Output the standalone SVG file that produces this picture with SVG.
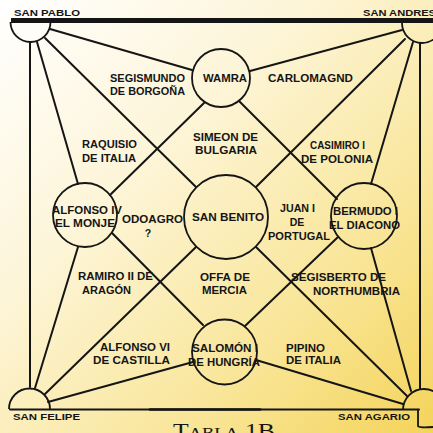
<svg xmlns="http://www.w3.org/2000/svg" width="433" height="433" viewBox="0 0 433 433">
<defs>
<linearGradient id="bg" x1="0" y1="0" x2="1" y2="1">
<stop offset="0" stop-color="#ffffff"/>
<stop offset="0.35" stop-color="#fdf5d8"/>
<stop offset="0.7" stop-color="#f9e69a"/>
<stop offset="1" stop-color="#f4d45a"/>
</linearGradient>
<style>
.ln{stroke:#151515;stroke-width:2;fill:none;stroke-linecap:round}
.nd{stroke:#151515;stroke-width:1.8;fill:none}
.bar{stroke:#151515;stroke-width:5;fill:none}
.t{font-family:"Liberation Sans",Arial,sans-serif;font-weight:bold;font-size:10.5px;fill:#151515}
.c{font-family:"Liberation Sans",Arial,sans-serif;font-weight:bold;font-size:8.5px;fill:#151515}
.m{text-anchor:middle}
</style>
</defs>
<rect width="433" height="433" fill="url(#bg)"/>

<g id="frame">
<line class="bar" x1="11" y1="20.5" x2="433" y2="20.5"/>
<line class="ln" x1="10" y1="409.5" x2="419" y2="409.5"/>
<line class="ln" x1="150" y1="409.5" x2="260" y2="409.5" style="stroke-width:2.6"/>
</g>

<g id="connectors">
<line class="ln" x1="50" y1="29" x2="192" y2="70"/>
<line class="ln" x1="45" y1="38" x2="196" y2="187"/>
<line class="ln" x1="37" y1="42" x2="78" y2="184"/>
<line class="ln" x1="30" y1="42" x2="30" y2="387"/>
<line class="ln" x1="402" y1="30" x2="250" y2="71"/>
<line class="ln" x1="405" y1="39" x2="256" y2="187"/>
<line class="ln" x1="413" y1="42" x2="371" y2="184"/>
<line class="ln" x1="420" y1="43" x2="420" y2="389"/>
<line class="ln" x1="204" y1="103" x2="110" y2="195"/>
<line class="ln" x1="239" y1="101" x2="337" y2="199"/>
<line class="ln" x1="112" y1="233" x2="203" y2="325"/>
<line class="ln" x1="78" y1="247" x2="35" y2="388"/>
<line class="ln" x1="196" y1="247" x2="45" y2="394"/>
<line class="ln" x1="48" y1="402" x2="193" y2="362"/>
<line class="ln" x1="256" y1="247" x2="407" y2="396"/>
<line class="ln" x1="338" y1="237" x2="245" y2="326"/>
<line class="ln" x1="371" y1="248" x2="411" y2="391"/>
<line class="ln" x1="256" y1="360" x2="403" y2="404"/>
</g>

<g id="san-pablo">
<path class="nd" d="M10.5,22 A20 20 0 0 0 50.5,22"/>
<text class="c" x="14" y="16" textLength="66" lengthAdjust="spacingAndGlyphs">SAN PABLO</text>
</g>
<g id="san-andres">
<path class="nd" d="M402,23 A20 20 0 0 0 442,23"/>
<text class="c" x="363" y="16" textLength="73" lengthAdjust="spacingAndGlyphs">SAN ANDRES</text>
</g>
<g id="san-felipe">
<path class="nd" d="M9,409 A20.5 20.5 0 0 1 50,409"/>
<text class="c" x="13" y="420" textLength="67" lengthAdjust="spacingAndGlyphs">SAN FELIPE</text>
</g>
<g id="san-agario">
<path class="nd" d="M403,410 A21 21 0 0 1 445,410"/>
<path class="nd" d="M418,410 V426 Q419,428 433,427"/>
<text class="c" x="338" y="420" textLength="72" lengthAdjust="spacingAndGlyphs">SAN AGARIO</text>
</g>

<g id="wamra">
<circle class="nd" cx="221" cy="78" r="29"/>
<text class="t" x="203" y="81.8" textLength="44" lengthAdjust="spacingAndGlyphs">WAMRA</text>
</g>
<g id="san-benito">
<circle class="nd" cx="226" cy="217" r="42"/>
<text class="t" x="192" y="220.8" textLength="72" lengthAdjust="spacingAndGlyphs">SAN BENITO</text>
</g>
<g id="alfonso-iv">
<circle class="nd" cx="85" cy="215" r="32"/>
<text class="t" x="52" y="213.8" textLength="70" lengthAdjust="spacingAndGlyphs">ALFONSO IV</text>
<text class="t" x="55" y="226.8" textLength="60" lengthAdjust="spacingAndGlyphs">EL MONJE</text>
</g>
<g id="bermudo-i">
<circle class="nd" cx="364" cy="216" r="33"/>
<text class="t" x="333" y="214.8" textLength="65" lengthAdjust="spacingAndGlyphs">BERMUDO I</text>
<text class="t" x="329" y="228.8" textLength="71" lengthAdjust="spacingAndGlyphs">EL DIACONO</text>
</g>
<g id="salomon-i">
<circle class="nd" cx="224.5" cy="352" r="32.5"/>
<text class="t" x="192" y="351.8" textLength="66" lengthAdjust="spacingAndGlyphs">SALOMÓN I</text>
<text class="t" x="188" y="365.8" textLength="72" lengthAdjust="spacingAndGlyphs">DE HUNGRÍA</text>
</g>

<g id="segismundo">
<text class="t" x="110" y="81.8" textLength="75" lengthAdjust="spacingAndGlyphs">SEGISMUNDO</text>
<text class="t" x="110" y="94.8" textLength="75" lengthAdjust="spacingAndGlyphs">DE BORGOÑA</text>
</g>
<g id="carlomagno">
<text class="t" x="268" y="81.8" textLength="85" lengthAdjust="spacingAndGlyphs">CARLOMAGND</text>
</g>
<g id="raquisio">
<text class="t" x="82" y="147.8" textLength="55" lengthAdjust="spacingAndGlyphs">RAQUISIO</text>
<text class="t" x="82" y="161.8" textLength="54" lengthAdjust="spacingAndGlyphs">DE ITALIA</text>
</g>
<g id="simeon">
<text class="t" x="193" y="140.8" textLength="65" lengthAdjust="spacingAndGlyphs">SIMEON DE</text>
<text class="t" x="195" y="153.8" textLength="62" lengthAdjust="spacingAndGlyphs">BULGARIA</text>
</g>
<g id="casimiro">
<text class="t" x="310" y="148.8" textLength="55" lengthAdjust="spacingAndGlyphs">CASIMIRO I</text>
<text class="t" x="301" y="162.8" textLength="72" lengthAdjust="spacingAndGlyphs">DE POLONIA</text>
</g>
<g id="odoagro">
<text class="t" x="122" y="222.8" textLength="61" lengthAdjust="spacingAndGlyphs">ODOAGRO</text>
<text class="t m" x="148" y="236.8">?</text>
</g>
<g id="juan-i">
<text class="t" x="280" y="211.8" textLength="35" lengthAdjust="spacingAndGlyphs">JUAN I</text>
<text class="t m" x="297" y="225.8">DE</text>
<text class="t" x="268" y="239.8" textLength="62" lengthAdjust="spacingAndGlyphs">PORTUGAL</text>
</g>
<g id="ramiro">
<text class="t" x="78" y="279.8" textLength="75" lengthAdjust="spacingAndGlyphs">RAMIRO II DE</text>
<text class="t" x="82" y="293.8" textLength="49" lengthAdjust="spacingAndGlyphs">ARAGÓN</text>
</g>
<g id="offa">
<text class="t" x="200" y="280.8" textLength="50" lengthAdjust="spacingAndGlyphs">OFFA DE</text>
<text class="t" x="202" y="293.8" textLength="45" lengthAdjust="spacingAndGlyphs">MERCIA</text>
</g>
<g id="segisberto">
<text class="t" x="291" y="280.8" textLength="95" lengthAdjust="spacingAndGlyphs">SEGISBERTO DE</text>
<text class="t" x="313" y="294.8" textLength="87" lengthAdjust="spacingAndGlyphs">NORTHUMBRIA</text>
</g>
<g id="alfonso-vi">
<text class="t" x="100" y="350.8" textLength="70" lengthAdjust="spacingAndGlyphs">ALFONSO VI</text>
<text class="t" x="93" y="363.8" textLength="77" lengthAdjust="spacingAndGlyphs">DE CASTILLA</text>
</g>
<g id="pipino">
<text class="t" x="286" y="351.8" textLength="39" lengthAdjust="spacingAndGlyphs">PIPINO</text>
<text class="t" x="286" y="363.8" textLength="55" lengthAdjust="spacingAndGlyphs">DE ITALIA</text>
</g>

<text x="173" y="438" font-family="Liberation Serif,serif" font-size="21" fill="#151515" style="font-variant:small-caps" textLength="102" lengthAdjust="spacingAndGlyphs">Tabla 1B</text>
</svg>
